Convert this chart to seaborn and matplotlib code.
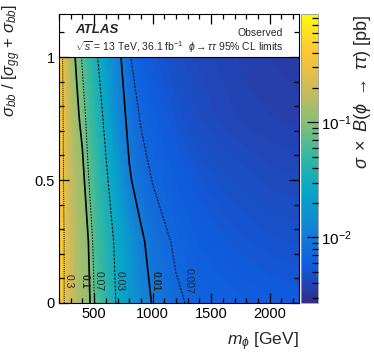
import numpy as np
import matplotlib
matplotlib.use("Agg")
import matplotlib.pyplot as plt
import seaborn as sns
from matplotlib.colors import LinearSegmentedColormap, LogNorm
from matplotlib import ticker, transforms
from matplotlib.cm import ScalarMappable

# ---------------- data ----------------
masses = [200, 250, 300, 350, 400, 450, 500, 600, 700, 800, 900, 1000,
          1200, 1400, 1600, 1800, 2000, 2250]
bb_fractions = [0.0, 0.25, 0.5, 0.75, 1.0]
limit_f000 = [0.50, 0.28, 0.20, 0.15, 0.125, 0.115, 0.072, 0.045, 0.028, 0.019,
              0.013, 0.0097, 0.0074, 0.0064, 0.0062, 0.0059, 0.0057, 0.0055]
limit_f025 = [0.49, 0.28, 0.19, 0.145, 0.12, 0.101, 0.062, 0.040, 0.026, 0.017,
              0.0108, 0.0085, 0.0066, 0.0058, 0.0054, 0.0051, 0.0049, 0.0048]
limit_f050 = [0.48, 0.26, 0.18, 0.135, 0.118, 0.072, 0.056, 0.033, 0.020, 0.0105,
              0.0082, 0.0069, 0.0058, 0.0051, 0.0047, 0.0045, 0.0043, 0.0042]
limit_f075 = [0.47, 0.25, 0.165, 0.115, 0.085, 0.060, 0.046, 0.026, 0.0135, 0.0088,
              0.0068, 0.0060, 0.0050, 0.0044, 0.0041, 0.0039, 0.0038, 0.0037]
limit_f100 = [0.46, 0.23, 0.13, 0.092, 0.066, 0.050, 0.036, 0.020, 0.0115, 0.0072,
              0.0058, 0.0052, 0.0045, 0.0041, 0.0039, 0.0037, 0.0036, 0.0035]
contour_levels = [0.007, 0.01, 0.03, 0.07, 0.1, 0.3]
contour_labels = ["0.007", "0.01", "0.03", "0.07", "0.1", "0.3"]
x_ticks = [500, 1000, 1500, 2000]
y_ticks = [0, 0.5, 1]
cbar_ticks = [0.01, 0.1]

# ---------------- style ----------------
sns.set_theme(style="ticks")
plt.rcParams["font.family"] = ["Liberation Sans", "DejaVu Sans"]
plt.rcParams["mathtext.fontset"] = "custom"
plt.rcParams["mathtext.rm"] = "Liberation Sans"
plt.rcParams["mathtext.it"] = "Liberation Sans:italic"
plt.rcParams["mathtext.bf"] = "Liberation Sans:bold"
plt.rcParams["axes.axisbelow"] = False
for k in ("xtick", "ytick"):
    plt.rcParams[f"{k}.color"] = "black"
    plt.rcParams[f"{k}.direction"] = "in"
    plt.rcParams[f"{k}.major.size"] = 6
    plt.rcParams[f"{k}.minor.size"] = 3
    plt.rcParams[f"{k}.major.width"] = 0.9
    plt.rcParams[f"{k}.minor.width"] = 0.9
plt.rcParams["xtick.top"] = True
plt.rcParams["ytick.right"] = True

bird = LinearSegmentedColormap.from_list("bird", [
    (0.2082, 0.1664, 0.5293), (0.0592, 0.3599, 0.8684), (0.0780, 0.5041, 0.8385),
    (0.0232, 0.6419, 0.7914), (0.1802, 0.7178, 0.6425), (0.5301, 0.7492, 0.4662),
    (0.8186, 0.7328, 0.3499), (0.9956, 0.7862, 0.1968), (0.9764, 0.9832, 0.0539)], N=255)

vmin, vmax = 0.0027, 0.87

fig = plt.figure(figsize=(3.74, 3.61), dpi=100)
ax = fig.add_axes([59/374, 58/361, 240/374, 289/361])
cax = fig.add_axes([301/374, 58/361, 17/374, 289/361])
ax.set_axisbelow(False)

M, F = np.meshgrid(masses, bb_fractions)
Z = np.array([limit_f000, limit_f025, limit_f050, limit_f075, limit_f100])
LZ = np.log10(Z)

ax.contourf(M, F, LZ, levels=np.linspace(np.log10(vmin), np.log10(vmax), 120),
            cmap=bird, vmin=np.log10(vmin), vmax=np.log10(vmax), zorder=0)

styles = {0.007: (0, (2, 1.5)), 0.01: "solid", 0.03: (0, (2.5, 1.5)),
          0.07: (0, (1.5, 1.5)), 0.1: "solid", 0.3: (0, (1, 1))}
widths = {0.007: 0.7, 0.01: 1.2, 0.03: 0.7, 0.07: 0.7, 0.1: 1.2, 0.3: 0.7}
for lev in contour_levels:
    ax.contour(M, F, LZ, levels=[np.log10(lev)], colors="black",
               linestyles=[styles[lev]], linewidths=widths[lev], zorder=1)

# contour labels near the bottom
row = LZ[0]
for lev, lab in zip(contour_levels, contour_labels):
    xpos = np.interp(np.log10(lev), row[::-1], np.array(masses)[::-1])
    dx = -5 if lev == 0.1 else 4
    off = transforms.offset_copy(ax.transData, fig=fig, x=dx, y=0, units="dots")
    ax.text(xpos, 0.09, lab, transform=off, rotation=-90, fontsize=7.5,
            ha="center", va="center", zorder=2,
            fontweight="bold" if lev in (0.1, 0.01) else "normal")

ax.axhline(1.0, color="black", lw=0.8, zorder=2)
ax.set_xlim(200, 2250)
ax.set_ylim(0, 1.175)
ax.set_xticks(x_ticks)
ax.set_yticks(y_ticks)
ax.set_yticklabels(["0", "0.5", "1"])
ax.xaxis.set_minor_locator(ticker.MultipleLocator(100))
ax.yaxis.set_minor_locator(ticker.MultipleLocator(0.1))
ax.tick_params(which="both", direction="in", top=True, right=True, bottom=True,
               left=True, labelsize=10.5, colors="black", pad=3)
ax.tick_params(which="major", length=7, width=0.9)
ax.tick_params(which="minor", length=3.5, width=0.9)
for s in ax.spines.values():
    s.set_linewidth(0.8)
    s.set_color("black")
    s.set_zorder(3)

ax.set_xlabel(r"$m_{\phi}$ [GeV]", loc="right", fontsize=12.5, labelpad=7)
ax.set_ylabel(r"$\sigma_{bb}$ / [$\sigma_{gg}$ + $\sigma_{bb}$]", loc="top", fontsize=12)
ax.yaxis.set_label_coords(-0.152, 1.035)

ax.text(0.067, 0.945, "ATLAS", transform=ax.transAxes, fontsize=9.5,
        fontweight="bold", fontstyle="italic", va="center", ha="left")
ax.text(0.933, 0.935, "Observed", transform=ax.transAxes, fontsize=7.5,
        va="center", ha="right")
ax.text(0.067, 0.886, r"$\sqrt{s}$ = 13 TeV, 36.1 fb$^{-1}$", transform=ax.transAxes,
        fontsize=7.5, va="center", ha="left")
ax.text(0.933, 0.886, r"$\phi\rightarrow\tau\tau$ 95% CL limits", transform=ax.transAxes,
        fontsize=7.5, va="center", ha="right")

sm = ScalarMappable(norm=LogNorm(vmin=vmin, vmax=vmax), cmap=bird)
cb = fig.colorbar(sm, cax=cax)
cb.set_ticks(cbar_ticks)
cb.ax.yaxis.set_major_formatter(ticker.LogFormatterMathtext())
cb.ax.yaxis.set_minor_locator(ticker.LogLocator(base=10, subs=np.arange(2, 10)))
cb.ax.yaxis.set_minor_formatter(ticker.NullFormatter())
cb.ax.tick_params(which="both", direction="in", right=True, labelsize=11,
                  colors="black", pad=2)
cb.ax.tick_params(which="major", length=8, width=0.9)
cb.ax.tick_params(which="minor", length=4, width=0.9)
cb.outline.set_edgecolor("#999999")
cb.outline.set_linewidth(0.6)
cb.set_label(r"$\sigma\ \times\ B(\phi\ \rightarrow\ \tau\tau)$ [pb]", loc="top",
             fontsize=13, labelpad=0)

fig.savefig("out.png", dpi=100)
